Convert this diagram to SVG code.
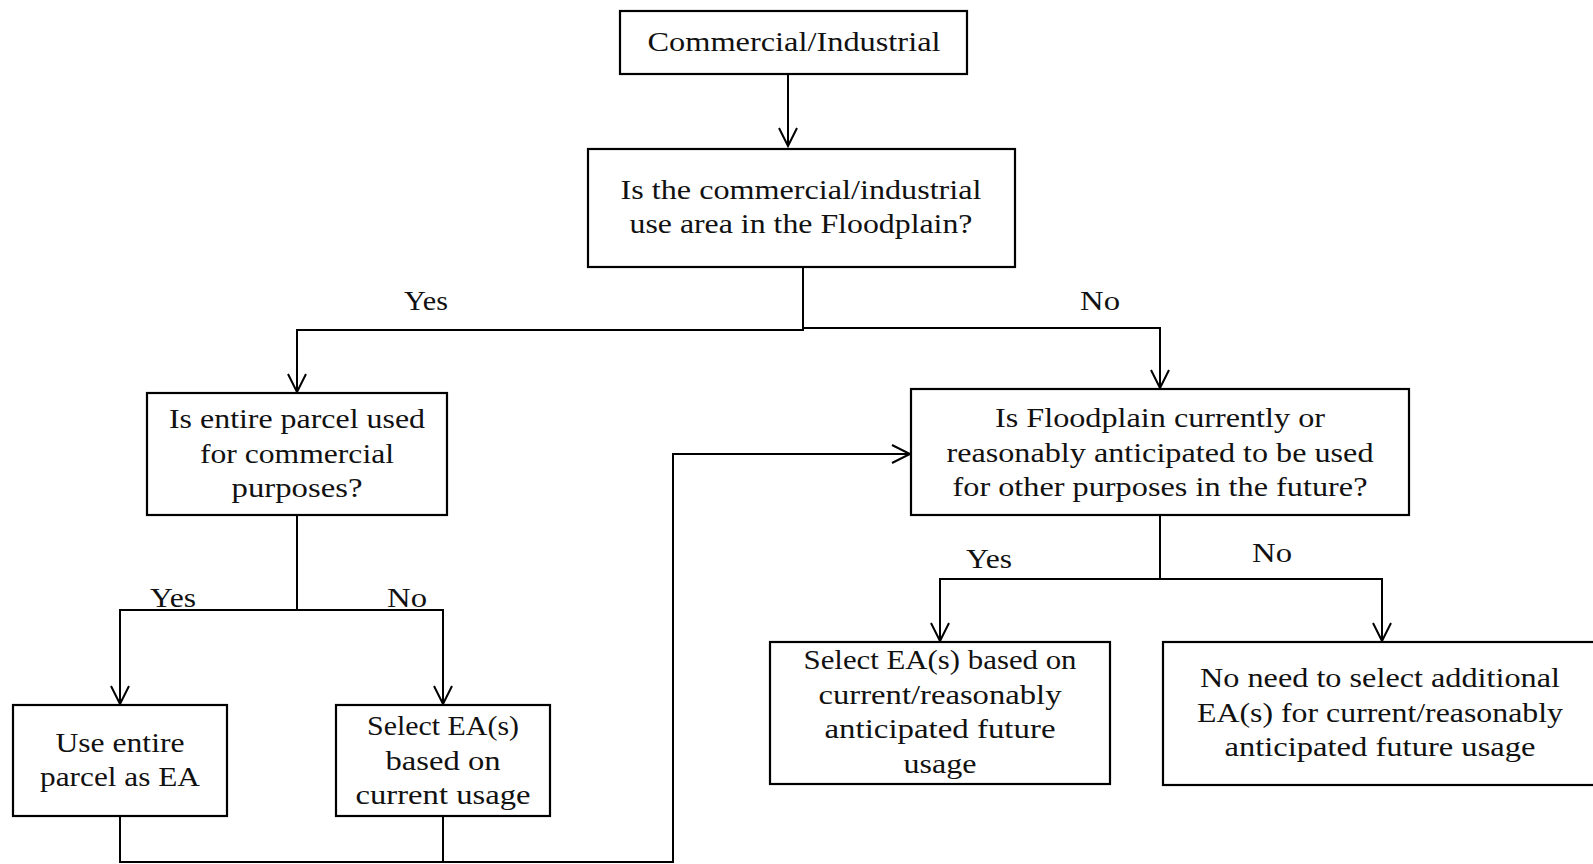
<svg xmlns="http://www.w3.org/2000/svg" width="1593" height="864" viewBox="0 0 1593 864">
<style>
.box{fill:#fff;stroke:#000;stroke-width:2.2}
.t{font-family:"Liberation Serif","Times New Roman",serif;font-size:28px;fill:#111;text-anchor:middle}
.c{fill:none;stroke:#000;stroke-width:2}
</style>
<defs>
<marker id="ah" markerUnits="userSpaceOnUse" markerWidth="24" markerHeight="24" viewBox="-20 -12 24 24" refX="0" refY="0" orient="auto">
<path d="M-18,-9 L0,0 L-18,9" fill="none" stroke="#000" stroke-width="2"/>
</marker>
</defs>
<g id="connectors">
<path class="c" d="M788,74 V146" marker-end="url(#ah)"/>
<path class="c" d="M803,267 V330 H297 V392" marker-end="url(#ah)"/>
<path class="c" d="M803,328 H1160 V388" marker-end="url(#ah)"/>
<path class="c" d="M297,515 V610 H120 V704" marker-end="url(#ah)"/>
<path class="c" d="M297,610 H443 V704" marker-end="url(#ah)"/>
<path class="c" d="M120,816 V862 H673 V454 H910" marker-end="url(#ah)"/>
<path class="c" d="M443,816 V862"/>
<path class="c" d="M1160,515 V579 H940 V641" marker-end="url(#ah)"/>
<path class="c" d="M1160,579 H1382 V641" marker-end="url(#ah)"/>
<text class="t" x="426" y="310" textLength="44" lengthAdjust="spacingAndGlyphs">Yes</text>
<text class="t" x="1100" y="310" textLength="40" lengthAdjust="spacingAndGlyphs">No</text>
<text class="t" x="173" y="607" textLength="46" lengthAdjust="spacingAndGlyphs">Yes</text>
<text class="t" x="407" y="607" textLength="40" lengthAdjust="spacingAndGlyphs">No</text>
<text class="t" x="989" y="568" textLength="46" lengthAdjust="spacingAndGlyphs">Yes</text>
<text class="t" x="1272" y="562" textLength="40" lengthAdjust="spacingAndGlyphs">No</text>
</g>
<g id="n1">
<rect class="box" x="620" y="11" width="347" height="63"/>
<text class="t" x="794" y="51" textLength="293" lengthAdjust="spacingAndGlyphs">Commercial/Industrial</text>
</g>
<g id="n2">
<rect class="box" x="588" y="149" width="427" height="118"/>
<text class="t" x="801" y="199" textLength="361" lengthAdjust="spacingAndGlyphs">Is the commercial/industrial</text>
<text class="t" x="801" y="233" textLength="343" lengthAdjust="spacingAndGlyphs">use area in the Floodplain?</text>
</g>
<g id="n3">
<rect class="box" x="147" y="393" width="300" height="122"/>
<text class="t" x="297" y="428" textLength="256" lengthAdjust="spacingAndGlyphs">Is entire parcel used</text>
<text class="t" x="297" y="463" textLength="194" lengthAdjust="spacingAndGlyphs">for commercial</text>
<text class="t" x="297" y="497" textLength="131" lengthAdjust="spacingAndGlyphs">purposes?</text>
</g>
<g id="n4">
<rect class="box" x="911" y="389" width="498" height="126"/>
<text class="t" x="1160" y="427" textLength="330" lengthAdjust="spacingAndGlyphs">Is Floodplain currently or</text>
<text class="t" x="1160" y="462" textLength="427" lengthAdjust="spacingAndGlyphs">reasonably anticipated to be used</text>
<text class="t" x="1160" y="496" textLength="415" lengthAdjust="spacingAndGlyphs">for other purposes in the future?</text>
</g>
<g id="n5">
<rect class="box" x="13" y="705" width="214" height="111"/>
<text class="t" x="120" y="752" textLength="129" lengthAdjust="spacingAndGlyphs">Use entire</text>
<text class="t" x="120" y="786" textLength="160" lengthAdjust="spacingAndGlyphs">parcel as EA</text>
</g>
<g id="n6">
<rect class="box" x="336" y="705" width="214" height="111"/>
<text class="t" x="443" y="735" textLength="152" lengthAdjust="spacingAndGlyphs">Select EA(s)</text>
<text class="t" x="443" y="770" textLength="115" lengthAdjust="spacingAndGlyphs">based on</text>
<text class="t" x="443" y="804" textLength="175" lengthAdjust="spacingAndGlyphs">current usage</text>
</g>
<g id="n7">
<rect class="box" x="770" y="642" width="340" height="142"/>
<text class="t" x="940" y="669" textLength="273" lengthAdjust="spacingAndGlyphs">Select EA(s) based on</text>
<text class="t" x="940" y="704" textLength="243" lengthAdjust="spacingAndGlyphs">current/reasonably</text>
<text class="t" x="940" y="738" textLength="231" lengthAdjust="spacingAndGlyphs">anticipated future</text>
<text class="t" x="940" y="773" textLength="73" lengthAdjust="spacingAndGlyphs">usage</text>
</g>
<g id="n8">
<rect class="box" x="1163" y="642" width="440" height="143"/>
<text class="t" x="1380" y="687" textLength="360" lengthAdjust="spacingAndGlyphs">No need to select additional</text>
<text class="t" x="1380" y="722" textLength="366" lengthAdjust="spacingAndGlyphs">EA(s) for current/reasonably</text>
<text class="t" x="1380" y="756" textLength="311" lengthAdjust="spacingAndGlyphs">anticipated future usage</text>
</g>
</svg>
